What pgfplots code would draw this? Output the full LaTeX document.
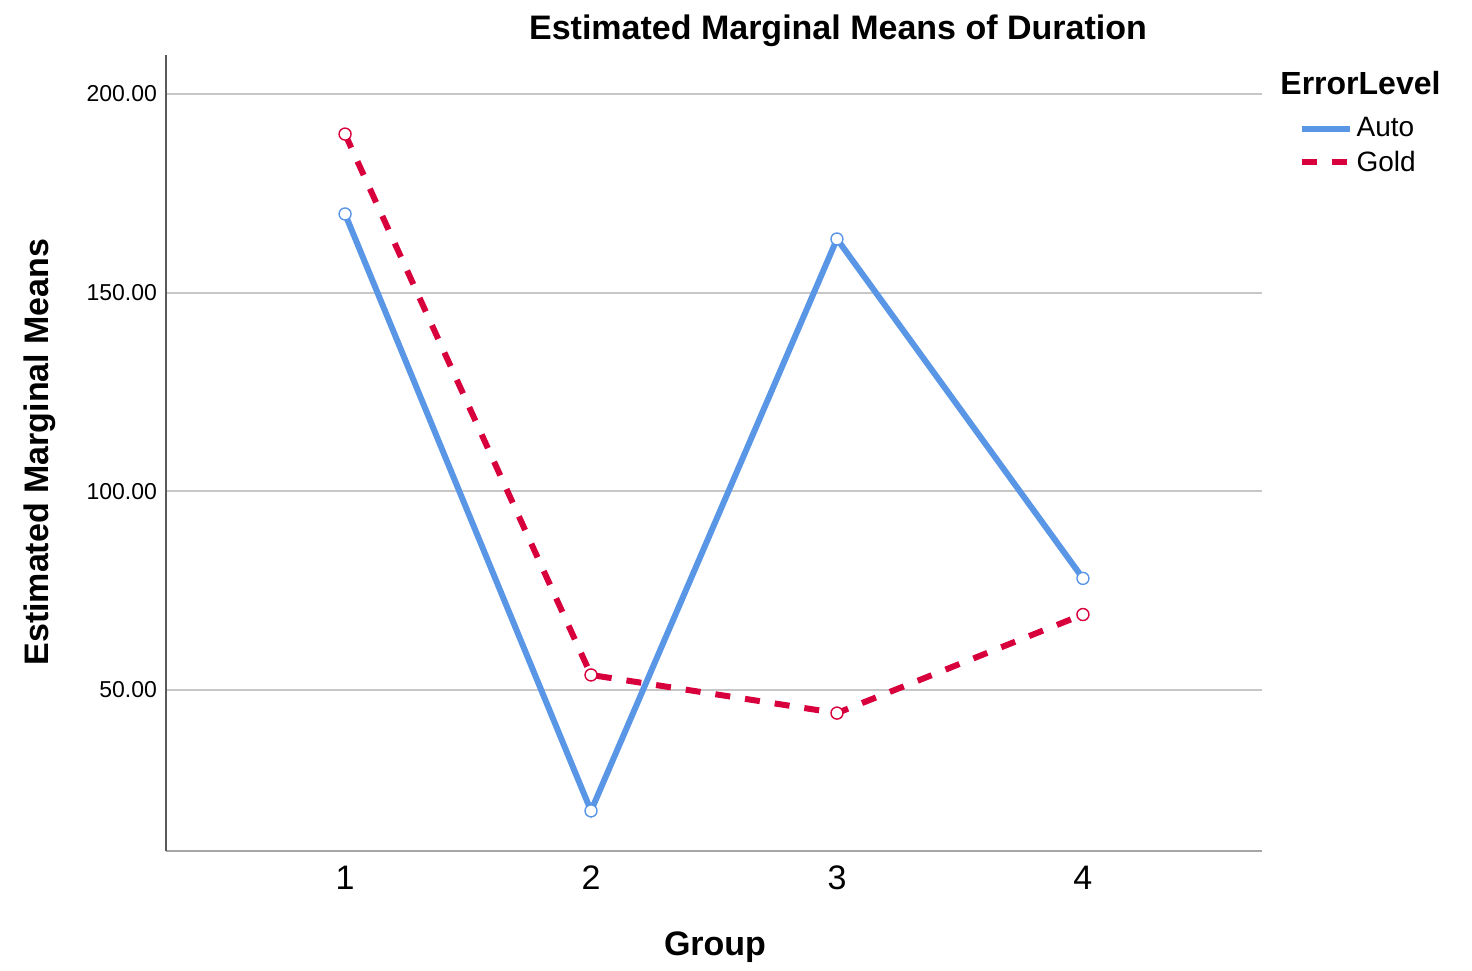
\documentclass[border=0pt]{standalone}
\usepackage{fontspec}
\setmainfont{Liberation Sans}
\usepackage{pgfplots}
\pgfplotsset{compat=1.18}
\definecolor{cblue}{HTML}{5A96E6}
\definecolor{cred}{HTML}{D8003C}
\begin{document}
\begin{tikzpicture}[x=1pt,y=1pt]
\begin{axis}[
  at={(83pt,59.5pt)}, anchor=south west,
  scale only axis, width=548pt, height=398pt,
  xmin=0.272, xmax=4.728, ymin=9.5, ymax=209.8,
  axis x line*=bottom, axis y line*=left,
  axis line style={-},
  x axis line style={color=black!35, line width=1pt},
  y axis line style={color=black!65, line width=0.7pt},
  xtick={1,2,3,4}, ytick={50,100,150,200},
  major tick length=0pt,
  ymajorgrids, grid style={color=black!22, line width=1pt},
  /pgf/number format/assume math mode=true,
  yticklabel style={/pgf/number format/.cd, fixed, fixed zerofill, precision=2, /tikz/.cd, font=\fontsize{11.5}{13}\selectfont, xshift=-1pt},
  xticklabel style={font=\fontsize{17}{20}\selectfont, yshift=-4pt},
  legend style={at={(rel axis cs:1.033,0.927)}, anchor=north west, draw=none, fill=none,
    font=\fontsize{14}{16}\selectfont, row sep=1.5pt, inner sep=0pt,
    nodes={inner sep=2pt}},
  legend cell align=left,
  legend image code/.code={\draw[#1, mark=none] (0pt,0pt) -- (24pt,0pt);},
  clip=false,
]
\addplot[cblue, line width=3pt, mark=*, mark size=3pt, mark options={solid, fill=white, draw=cblue, line width=0.7pt}]
  coordinates {(1,169.8) (2,19.6) (3,163.5) (4,78.1)};
\addlegendentry{Auto}
\addplot[cred, line width=3pt, dash pattern=on 7.5pt off 7.5pt, mark=*, mark size=3pt, mark options={solid, fill=white, draw=cred, line width=0.7pt}]
  coordinates {(1,189.9) (2,53.8) (3,44.2) (4,69.0)};
\addlegendentry{Gold}
\end{axis}
\node[anchor=base, font=\bfseries\fontsize{17}{20}\selectfont] at (419pt,465pt) {Estimated Marginal Means of Duration};
\node[anchor=base, rotate=90, font=\bfseries\fontsize{17}{20}\selectfont] at (24pt,259pt) {Estimated Marginal Means};
\node[anchor=base, font=\bfseries\fontsize{17}{20}\selectfont] at (357.5pt,7.5pt) {Group};
\node[anchor=base west, inner sep=0pt, font=\bfseries\fontsize{16}{19}\selectfont] at (640pt,437.5pt) {ErrorLevel};
\useasboundingbox (0,0) rectangle (736pt,485pt);
\end{tikzpicture}
\end{document}
